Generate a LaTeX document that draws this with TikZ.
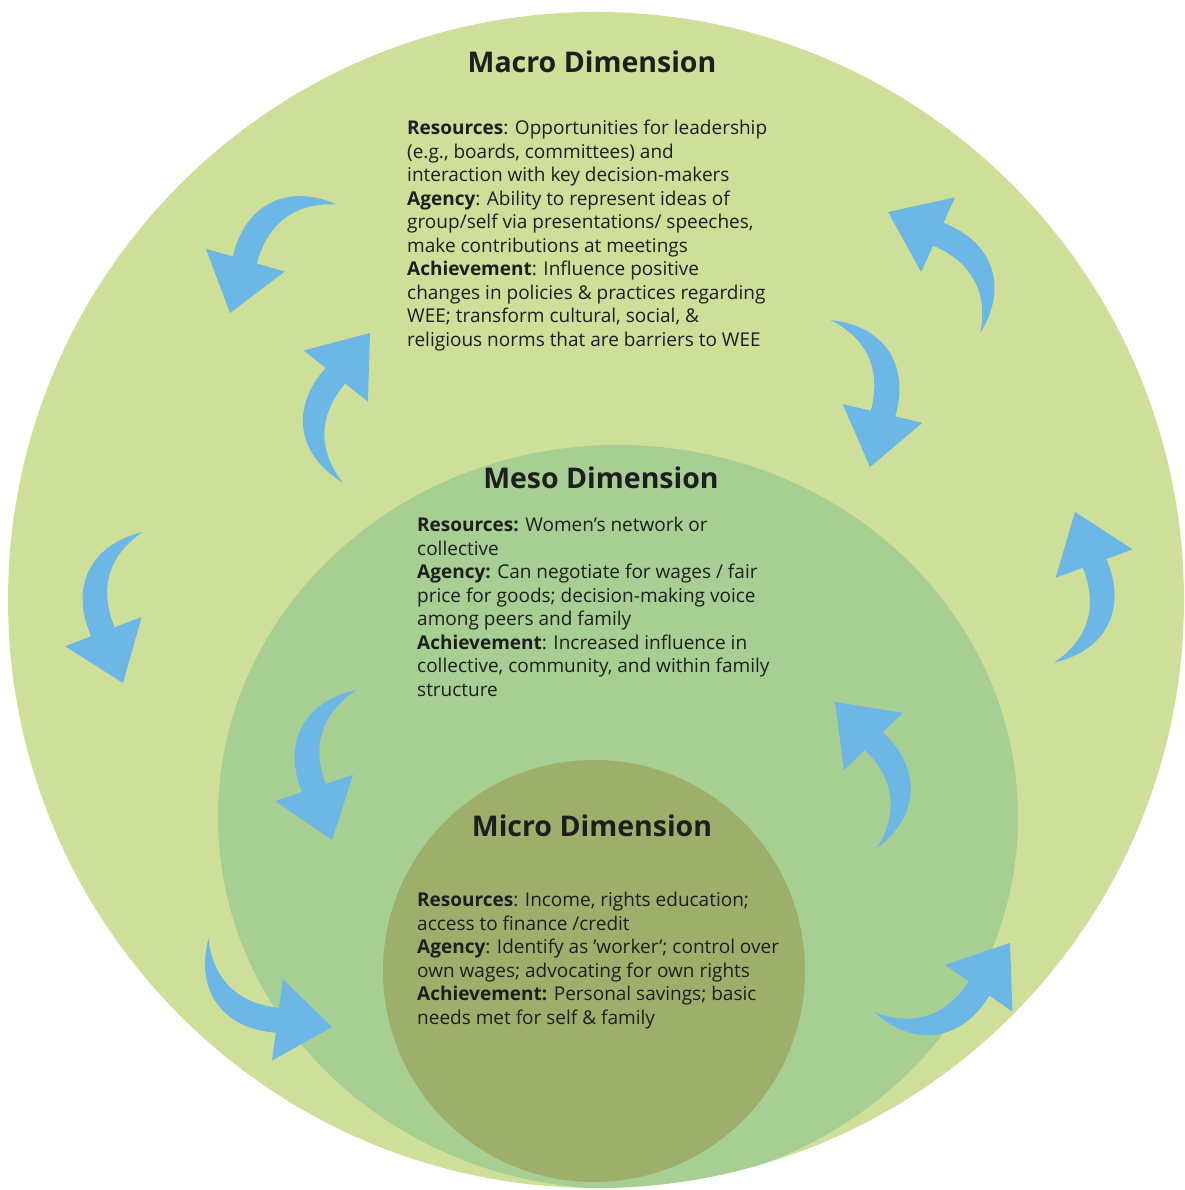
\documentclass[tikz,border=0pt]{standalone}
\usepackage{fontspec}
\setmainfont{Open Sans}
\definecolor{macrogreen}{RGB}{206,223,154}
\definecolor{mesogreen}{RGB}{167,206,147}
\definecolor{microolive}{RGB}{158,175,108}
\definecolor{flowblue}{RGB}{108,183,230}
\definecolor{inkgray}{RGB}{30,30,30}
\begin{document}
\begin{tikzpicture}[x=1pt, y=1pt,
    title/.style={font=\fontsize{28.5}{32}\selectfont\bfseries, text=inkgray, inner sep=0pt},
    body/.style={font=\fontsize{19}{23.5}\selectfont, text=inkgray, align=left, anchor=north west, inner sep=0pt}]
    \useasboundingbox (0,0) rectangle (1184,1190);

    % Nested dimensions
    \fill[macrogreen] (596,590) circle (588);
    \begin{scope}
        \clip (596,590) circle (588);
        \fill[mesogreen] (618,373) ellipse [x radius=400, y radius=372];
        \fill[microolive] (594,219) ellipse [x radius=211, y radius=211];
    \end{scope}

    % Curved arrows (tip x/y, angle, mirror)
    \foreach \x/\y/\a/\m in {230/877/-16.2/1, 370/857/141.5/-1, 888/978/245.6/1, 870/723/-13.2/-1,
                             123/507/20.9/1, 1075/678/200.3/1, 332/350/18.8/1, 835/488/224.2/1,
                             332/163/82.5/1, 1010/247/145.3/1} {
        \fill[flowblue, shift={(\x,\y)}, rotate=\a, xscale=\m]
            (72,134) .. controls (18,141) and (-16,108) .. (-13,55) -- (-41,55) -- (0,0)
            -- (41,55) -- (12,55) .. controls (11,95) and (30,124) .. (72,134) -- cycle;
    }

    % Macro
    \node[title] (macro) at (592,1128) {Macro Dimension};
    \node[body] (macrotext) at (407,1070) {\textbf{Resources}: Opportunities for leadership\\
        (e.g., boards, committees) and\\
        interaction with key decision-makers\\
        \textbf{Agency}: Ability to represent ideas of\\
        group/self via presentations/ speeches,\\
        make contributions at meetings\\
        \textbf{Achievement}: Influence positive\\
        changes in policies \& practices regarding\\
        WEE; transform cultural, social, \&\\
        religious norms that are barriers to WEE};

    % Meso
    \node[title] (meso) at (601,712) {Meso Dimension};
    \node[body] (mesotext) at (417,673) {\textbf{Resources:} Women's network or\\
        collective\\
        \textbf{Agency:} Can negotiate for wages / fair\\
        price for goods; decision-making voice\\
        among peers and family\\
        \textbf{Achievement}: Increased influence in\\
        collective, community, and within family\\
        structure};

    % Micro
    \node[title] (micro) at (592,364) {Micro Dimension};
    \node[body] (microtext) at (417,298) {\textbf{Resources}: Income, rights education;\\
        access to finance /credit\\
        \textbf{Agency}: Identify as 'worker'; control over\\
        own wages; advocating for own rights\\
        \textbf{Achievement:} Personal savings; basic\\
        needs met for self \& family};
\end{tikzpicture}
\end{document}
